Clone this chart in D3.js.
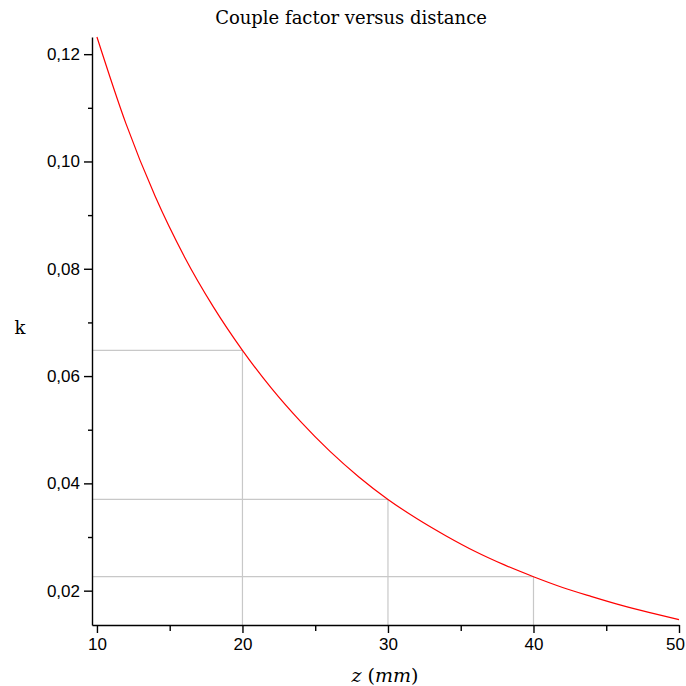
<!DOCTYPE html>
<html>
<head>
<meta charset="utf-8">
<script src="https://cdn.jsdelivr.net/npm/d3@7"></script>
<style>
  body { margin: 0; background: #fff; }
  svg { display: block; }
  .tick text { font-family: 'Liberation Sans', Arial, sans-serif; font-size: 17px; fill: #000; }
</style>
</head>
<body>
<svg width="686" height="686"></svg>
<script>
'use strict';

// distance z (mm) and coupling factor k
const zValues = [10, 12, 14, 16, 18, 20, 22, 24, 26, 28, 30, 32, 34, 36, 38, 40, 42, 44, 46, 48, 50]
const kValues = [0.1232, 0.1070, 0.0935, 0.0823, 0.0729, 0.0648, 0.0577, 0.0515, 0.0460, 0.0412,
  0.0370, 0.0334, 0.0302, 0.0273, 0.0248, 0.0226, 0.0206, 0.0189, 0.0173, 0.0159, 0.0146]

const xTicks = [10, 20, 30, 40, 50]
const xMinor = [15, 25, 35, 45]
const yTicks = [0.02, 0.04, 0.06, 0.08, 0.10, 0.12]
const yMinor = [0.03, 0.05, 0.07, 0.09, 0.11]
const gridZ = [20, 30, 40]

const svg = d3.select('svg')

const x = d3.scaleLinear().domain([9.66, 50]).range([92, 679])
const y = d3.scaleLinear().domain([0.0136, 0.1232]).range([625, 37])

const data = zValues.map((z, i) => ({z: z, k: kValues[i]}))

// guide lines
const grid = svg.append('g').attr('stroke', '#c8c8c8').attr('stroke-width', 1.2)
gridZ.forEach((z) => {
  const k = kValues[zValues.indexOf(z)]
  grid.append('line')
    .attr('x1', x.range()[0]).attr('x2', x(z))
    .attr('y1', y(k)).attr('y2', y(k))
  grid.append('line')
    .attr('x1', x(z)).attr('x2', x(z))
    .attr('y1', y(k)).attr('y2', y.range()[0])
})

const fmt = (d) => d3.format('.2f')(d).replace('.', ',')

// x axis
svg.append('g')
  .attr('transform', 'translate(0,' + y.range()[0] + ')')
  .call(d3.axisBottom(x).tickValues(xMinor).tickSize(6).tickSizeOuter(0).tickFormat(''))
  .call((g) => g.select('.domain').remove())
svg.append('g')
  .attr('transform', 'translate(0,' + y.range()[0] + ')')
  .call(d3.axisBottom(x).tickValues(xTicks).tickSize(8).tickSizeOuter(0).tickPadding(5))
  .call((g) => g.selectAll('.tick text').filter((d) => d === 50).attr('dx', -4))

// y axis
svg.append('g')
  .attr('transform', 'translate(' + x.range()[0] + ',0)')
  .call(d3.axisLeft(y).tickValues(yMinor).tickSize(4).tickSizeOuter(0).tickFormat(''))
  .call((g) => g.select('.domain').remove())
svg.append('g')
  .attr('transform', 'translate(' + x.range()[0] + ',0)')
  .call(d3.axisLeft(y).tickValues(yTicks).tickSize(8).tickSizeOuter(0).tickPadding(4).tickFormat(fmt))

svg.selectAll('.domain, .tick line').attr('stroke', '#000').attr('stroke-width', 1.4)

// curve
const line = d3.line()
  .x((d) => x(d.z))
  .y((d) => y(d.k))
  .curve(d3.curveMonotoneX)

svg.append('path')
  .attr('d', line(data))
  .attr('fill', 'none')
  .attr('stroke', '#ff0000')
  .attr('stroke-width', 1.2)

// texts
svg.append('text')
  .attr('x', 351).attr('y', 24)
  .attr('text-anchor', 'middle')
  .style('font-family', "'DejaVu Serif', serif").style('font-size', '18px')
  .text('Couple factor versus distance')

svg.append('text')
  .attr('x', 20).attr('y', 334)
  .attr('text-anchor', 'middle')
  .style('font-family', "'DejaVu Serif', serif").style('font-size', '18px')
  .text('k')

const xl = svg.append('text')
  .attr('x', 385).attr('y', 682)
  .attr('text-anchor', 'middle')
  .style('font-family', "'DejaVu Serif', serif").style('font-size', '19px')
xl.append('tspan').style('font-style', 'italic').text('z')
xl.append('tspan').text(' (')
xl.append('tspan').style('font-style', 'italic').text('mm')
xl.append('tspan').text(')')
</script>
</body>
</html>
